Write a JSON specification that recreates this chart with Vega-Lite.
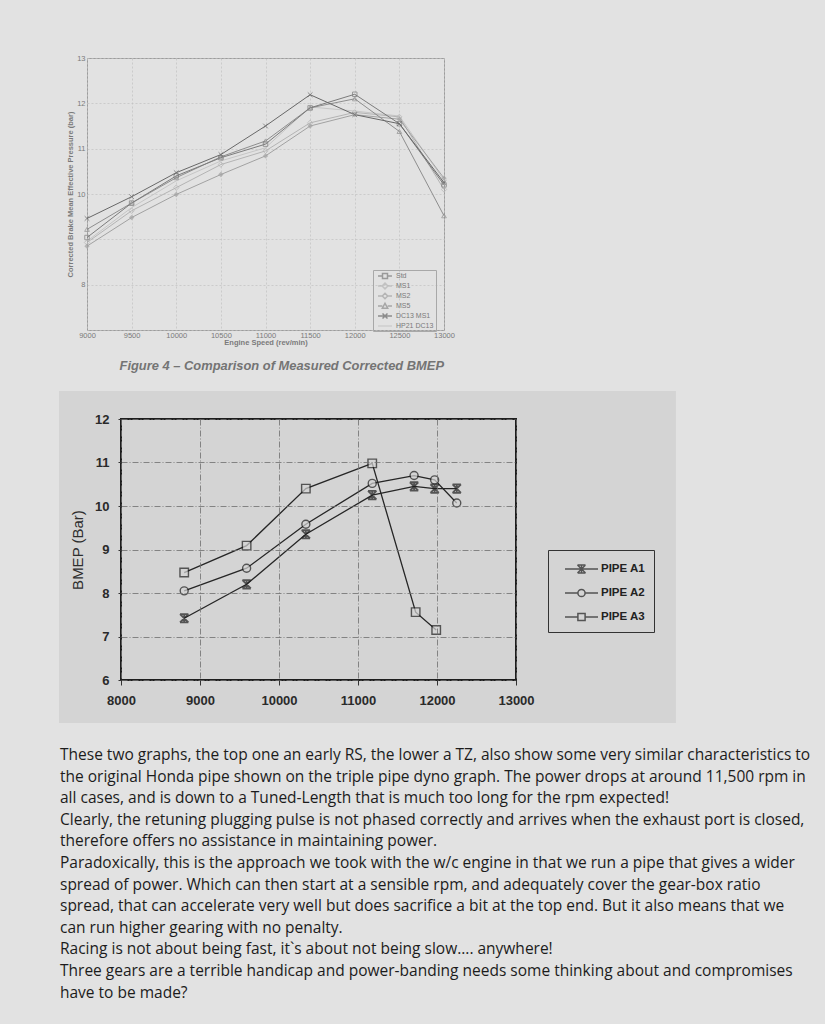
{
  "$schema": "https://vega.github.io/schema/vega-lite/v6.json",
  "padding": {"left": 58, "top": 53, "right": 0, "bottom": 26},
  "spacing": 16,
  "resolve": {"scale": {"color": "independent", "shape": "independent", "stroke": "independent"}},
  "config": {
    "background": "#e2e2e2",
    "view": {"stroke": null},
    "font": "Liberation Sans"
  },
  "vconcat": [
    {
      "spacing": 0,
      "resolve": {"scale": {"color": "independent", "shape": "independent", "stroke": "independent"}},
      "hconcat": [
        {"width": 8, "height": 10, "data": {"values": []}, "mark": "point"},
        {
          "width": 357,
          "height": 272,
          "view": {"stroke": "#9c9c9c", "strokeWidth": 1},
          "title": {"text": "Figure 4 – Comparison of Measured Corrected BMEP", "orient": "bottom", "anchor": "end", "frame": "group", "font": "Liberation Sans", "fontSize": 12.9, "fontStyle": "italic", "fontWeight": "bold", "color": "#747474", "offset": 14},
          "data": {"values": [
            {"series": "Std", "rpm": 9000, "bmep": 9.04}, {"series": "Std", "rpm": 9500, "bmep": 9.8}, {"series": "Std", "rpm": 10000, "bmep": 10.4}, {"series": "Std", "rpm": 10500, "bmep": 10.8}, {"series": "Std", "rpm": 11000, "bmep": 11.1}, {"series": "Std", "rpm": 11500, "bmep": 11.9}, {"series": "Std", "rpm": 12000, "bmep": 12.2}, {"series": "Std", "rpm": 12500, "bmep": 11.55}, {"series": "Std", "rpm": 13000, "bmep": 10.2},
            {"series": "MS1", "rpm": 9000, "bmep": 8.93}, {"series": "MS1", "rpm": 9500, "bmep": 9.63}, {"series": "MS1", "rpm": 10000, "bmep": 10.14}, {"series": "MS1", "rpm": 10500, "bmep": 10.65}, {"series": "MS1", "rpm": 11000, "bmep": 10.95}, {"series": "MS1", "rpm": 11500, "bmep": 11.57}, {"series": "MS1", "rpm": 12000, "bmep": 11.8}, {"series": "MS1", "rpm": 12500, "bmep": 11.7}, {"series": "MS1", "rpm": 13000, "bmep": 10.1},
            {"series": "MS2", "rpm": 9000, "bmep": 8.85}, {"series": "MS2", "rpm": 9500, "bmep": 9.48}, {"series": "MS2", "rpm": 10000, "bmep": 9.99}, {"series": "MS2", "rpm": 10500, "bmep": 10.43}, {"series": "MS2", "rpm": 11000, "bmep": 10.84}, {"series": "MS2", "rpm": 11500, "bmep": 11.5}, {"series": "MS2", "rpm": 12000, "bmep": 11.75}, {"series": "MS2", "rpm": 12500, "bmep": 11.65}, {"series": "MS2", "rpm": 13000, "bmep": 10.35},
            {"series": "MS5", "rpm": 9000, "bmep": 9.22}, {"series": "MS5", "rpm": 9500, "bmep": 9.8}, {"series": "MS5", "rpm": 10000, "bmep": 10.36}, {"series": "MS5", "rpm": 10500, "bmep": 10.82}, {"series": "MS5", "rpm": 11000, "bmep": 11.17}, {"series": "MS5", "rpm": 11500, "bmep": 11.9}, {"series": "MS5", "rpm": 12000, "bmep": 12.1}, {"series": "MS5", "rpm": 12500, "bmep": 11.38}, {"series": "MS5", "rpm": 13000, "bmep": 9.52},
            {"series": "DC13 MS1", "rpm": 9000, "bmep": 9.46}, {"series": "DC13 MS1", "rpm": 9500, "bmep": 9.94}, {"series": "DC13 MS1", "rpm": 10000, "bmep": 10.47}, {"series": "DC13 MS1", "rpm": 10500, "bmep": 10.87}, {"series": "DC13 MS1", "rpm": 11000, "bmep": 11.5}, {"series": "DC13 MS1", "rpm": 11500, "bmep": 12.19}, {"series": "DC13 MS1", "rpm": 12000, "bmep": 11.75}, {"series": "DC13 MS1", "rpm": 12500, "bmep": 11.55}, {"series": "DC13 MS1", "rpm": 13000, "bmep": 10.25},
            {"series": "HP21 DC13", "rpm": 9000, "bmep": 8.96}, {"series": "HP21 DC13", "rpm": 9500, "bmep": 9.7}, {"series": "HP21 DC13", "rpm": 10000, "bmep": 10.29}, {"series": "HP21 DC13", "rpm": 10500, "bmep": 10.73}, {"series": "HP21 DC13", "rpm": 11000, "bmep": 11.02}, {"series": "HP21 DC13", "rpm": 11500, "bmep": 11.92}, {"series": "HP21 DC13", "rpm": 12000, "bmep": 11.83}, {"series": "HP21 DC13", "rpm": 12500, "bmep": 11.72}, {"series": "HP21 DC13", "rpm": 13000, "bmep": 10.3}
          ]},
          "encoding": {
            "x": {"field": "rpm", "type": "quantitative", "scale": {"domain": [9000, 13000], "nice": false, "zero": false},
              "axis": {"title": "Engine Speed (rev/min)", "format": "d", "values": [9000, 9500, 10000, 10500, 11000, 11500, 12000, 12500, 13000], "labelFontSize": 7.5, "labelColor": "#7a7a7a", "labelFlush": false, "titleFontSize": 7.5, "titleFontWeight": "bold", "titleColor": "#7a7a7a", "tickSize": 0, "labelPadding": 1, "titlePadding": 0, "domain": false, "grid": true, "gridColor": "#c2c2c2", "gridDash": [2, 2], "gridWidth": 0.7}},
            "y": {"field": "bmep", "type": "quantitative", "scale": {"domain": [7, 13], "nice": false, "zero": false},
              "axis": {"title": "Corrected Brake Mean Effective Pressure (bar)", "values": [7, 8, 9, 10, 11, 12, 13], "labelExpr": "datum.value == 9 || datum.value == 7 ? '' : datum.label", "labelFontSize": 7.5, "labelColor": "#7a7a7a", "titleFontSize": 7.5, "titleFontWeight": "bold", "titleColor": "#7a7a7a", "tickSize": 0, "labelPadding": 2, "titlePadding": 2, "domain": false, "grid": true, "gridColor": "#c2c2c2", "gridDash": [2, 2], "gridWidth": 0.7}}
          },
          "layer": [
            {"transform": [{"filter": "datum.series == 'HP21 DC13'"}], "mark": {"type": "line", "strokeWidth": 1, "color": "#c6c6c6"}},
            {"transform": [{"filter": "datum.series == 'MS1'"}], "mark": {"type": "line", "strokeWidth": 1, "color": "#b4b4b4"}},
            {"transform": [{"filter": "datum.series == 'MS2'"}], "mark": {"type": "line", "strokeWidth": 1, "color": "#a2a2a2"}},
            {"transform": [{"filter": "datum.series == 'MS5'"}], "mark": {"type": "line", "strokeWidth": 1, "color": "#8e8e8e"}},
            {"transform": [{"filter": "datum.series == 'Std'"}], "mark": {"type": "line", "strokeWidth": 1, "color": "#7c7c7c"}},
            {"transform": [{"filter": "datum.series == 'DC13 MS1'"}], "mark": {"type": "line", "strokeWidth": 1, "color": "#686868"}},
            {"transform": [{"filter": "datum.series == 'Std'"}], "mark": {"type": "point", "shape": "M-1,-1H1V1H-1Z", "size": 20, "filled": false, "color": "#7c7c7c", "strokeWidth": 1}},
            {"transform": [{"filter": "datum.series == 'MS1'"}], "mark": {"type": "point", "shape": "M0,-1.2L1.2,0L0,1.2L-1.2,0Z", "size": 20, "filled": false, "color": "#b4b4b4", "strokeWidth": 1}},
            {"transform": [{"filter": "datum.series == 'MS2'"}], "mark": {"type": "point", "shape": "M0,-1.2L1.2,0L0,1.2L-1.2,0Z", "size": 20, "filled": true, "color": "#a2a2a2"}},
            {"transform": [{"filter": "datum.series == 'MS5'"}], "mark": {"type": "point", "shape": "triangle-up", "size": 22, "filled": false, "color": "#8e8e8e", "strokeWidth": 1}},
            {"transform": [{"filter": "datum.series == 'DC13 MS1'"}], "mark": {"type": "point", "shape": "M-1,-1L1,1M-1,1L1,-1", "size": 22, "filled": false, "color": "#686868", "strokeWidth": 1}},
            {"mark": {"type": "point", "size": 0, "filled": false, "strokeWidth": 1},
             "encoding": {
               "shape": {"field": "series", "type": "nominal", "scale": {"domain": ["Std", "MS1", "MS2", "MS5", "DC13 MS1", "HP21 DC13"], "range": ["M-0.33,0H1.17M2.83,0H4.33M1.17,-0.83H2.83V0.83H1.17Z", "M-0.33,0H1.05M2.95,0H4.33M2,-0.95L2.95,0L2,0.95L1.05,0Z", "M-0.33,0H1.1M2.9,0H4.33M2,-0.9L2.9,0L2,0.9L1.1,0Z", "M-0.33,0H1.1M2.9,0H4.33M2,-0.9L2.9,0.75H1.1Z", "M-0.33,0H4.33M1.17,-0.83L2.83,0.83M1.17,0.83L2.83,-0.83", "M-0.33,0H4.33"]},
                 "legend": {"orient": "none", "legendX": 286, "legendY": 212, "title": null, "labelFontSize": 7, "labelColor": "#7a7a7a", "symbolSize": 36, "labelOffset": 13, "rowPadding": -3.5, "padding": 2, "strokeColor": "#a8a8a8"}},
               "stroke": {"field": "series", "type": "nominal", "scale": {"domain": ["Std", "MS1", "MS2", "MS5", "DC13 MS1", "HP21 DC13"], "range": ["#7c7c7c", "#b4b4b4", "#a2a2a2", "#8e8e8e", "#686868", "#c6c6c6"]},
                 "legend": {"orient": "none", "legendX": 286, "legendY": 212, "title": null, "labelFontSize": 7, "labelColor": "#7a7a7a", "symbolSize": 36, "labelOffset": 13, "rowPadding": -3.5, "padding": 2, "strokeColor": "#a8a8a8"}}
             }}
          ]
        }
      ]
    },
    {
      "spacing": 0,
      "resolve": {"scale": {"color": "independent", "shape": "independent", "stroke": "independent"}},
      "hconcat": [
        {"width": 1, "height": 10, "data": {"values": []}, "mark": "point"},
        {
          "width": 395,
          "height": 261,
          "data": {"values": [
            {"series": "PIPE A1", "rpm": 8800, "bmep": 7.42}, {"series": "PIPE A1", "rpm": 9590, "bmep": 8.2}, {"series": "PIPE A1", "rpm": 10340, "bmep": 9.35}, {"series": "PIPE A1", "rpm": 11180, "bmep": 10.25}, {"series": "PIPE A1", "rpm": 11710, "bmep": 10.45}, {"series": "PIPE A1", "rpm": 11970, "bmep": 10.4}, {"series": "PIPE A1", "rpm": 12250, "bmep": 10.4},
            {"series": "PIPE A2", "rpm": 8800, "bmep": 8.05}, {"series": "PIPE A2", "rpm": 9590, "bmep": 8.57}, {"series": "PIPE A2", "rpm": 10340, "bmep": 9.58}, {"series": "PIPE A2", "rpm": 11180, "bmep": 10.52}, {"series": "PIPE A2", "rpm": 11710, "bmep": 10.7}, {"series": "PIPE A2", "rpm": 11970, "bmep": 10.6}, {"series": "PIPE A2", "rpm": 12250, "bmep": 10.07},
            {"series": "PIPE A3", "rpm": 8800, "bmep": 8.47}, {"series": "PIPE A3", "rpm": 9590, "bmep": 9.09}, {"series": "PIPE A3", "rpm": 10340, "bmep": 10.4}, {"series": "PIPE A3", "rpm": 11180, "bmep": 10.98}, {"series": "PIPE A3", "rpm": 11730, "bmep": 7.56}, {"series": "PIPE A3", "rpm": 11990, "bmep": 7.15}
          ]},
          "encoding": {
            "x": {"field": "rpm", "type": "quantitative", "scale": {"domain": [8000, 13000], "nice": false, "zero": false},
              "axis": {"title": null, "format": "d", "values": [8000, 9000, 10000, 11000, 12000, 13000], "labelFontSize": 13, "labelFontWeight": "bold", "labelColor": "#2a2a2a", "labelFlush": false, "tickSize": 5, "tickColor": "#333333", "labelPadding": 9, "domain": false, "grid": true, "gridColor": "#6e6e6e", "gridDash": [6, 2, 1, 2], "gridWidth": 0.8, "zindex": 1}},
            "y": {"field": "bmep", "type": "quantitative", "scale": {"domain": [6, 12], "nice": false, "zero": false},
              "axis": {"title": "BMEP (Bar)", "values": [6, 7, 8, 9, 10, 11, 12], "titleFontSize": 15, "titleFontWeight": "normal", "titleColor": "#2e2e2e", "titlePadding": 9, "labelFontSize": 13, "labelFontWeight": "bold", "labelColor": "#2a2a2a", "tickSize": 3, "tickColor": "#333333", "labelPadding": 9, "domain": false, "grid": true, "gridColor": "#6e6e6e", "gridDash": [6, 2, 1, 2], "gridWidth": 0.8, "zindex": 1}}
          },
          "layer": [
            {"mark": {"type": "rect", "color": "#d4d4d4", "clip": false},
             "encoding": {"x": {"datum": 7216, "type": "quantitative"}, "x2": {"datum": 15013}, "y": {"datum": 12.644, "type": "quantitative"}, "y2": {"datum": 5.011}}},
            {"mark": {"type": "rect", "fillOpacity": 0, "stroke": "#1e1e1e", "strokeWidth": 2},
             "encoding": {"x": {"datum": 8000, "type": "quantitative"}, "x2": {"datum": 13000}, "y": {"datum": 12, "type": "quantitative"}, "y2": {"datum": 6}}},
            {"mark": {"type": "line", "color": "#262626", "strokeWidth": 1.3}, "encoding": {"detail": {"field": "series"}}},
            {"transform": [{"filter": "datum.series == 'PIPE A1'"}], "mark": {"type": "point", "shape": "M-1,-1L1,1M-1,1L1,-1M0,-1V1M-1,-1H1M-1,1H1", "size": 70, "filled": false, "color": "#1e1e1e", "strokeWidth": 1.8}},
            {"transform": [{"filter": "datum.series == 'PIPE A2'"}], "mark": {"type": "point", "shape": "M-1,0A1,1 0 1,1 1,0A1,1 0 1,1 -1,0Z", "size": 64, "filled": true, "fill": "#d4d4d4", "stroke": "#1e1e1e", "strokeWidth": 1.4}},
            {"transform": [{"filter": "datum.series == 'PIPE A3'"}], "mark": {"type": "point", "shape": "M-1,-1H1V1H-1Z", "size": 72, "filled": true, "fill": "#d4d4d4", "stroke": "#1e1e1e", "strokeWidth": 1.4}},
            {"mark": {"type": "point", "size": 0, "filled": false, "strokeWidth": 1.4},
             "encoding": {
               "shape": {"field": "series", "type": "nominal", "scale": {"domain": ["PIPE A1", "PIPE A2", "PIPE A3"], "range": ["M-0.2,0H3.1M1.05,-0.4L1.85,0.4M1.05,0.4L1.85,-0.4M1.45,-0.4V0.4M1.05,-0.4H1.85M1.05,0.4H1.85", "M-0.2,0H1.09M1.81,0H3.1M1.09,0A0.36,0.36 0 1,1 1.81,0A0.36,0.36 0 1,1 1.09,0", "M-0.2,0H1.09M1.81,0H3.1M1.09,-0.36H1.81V0.36H1.09Z"]},
                 "legend": {"orient": "none", "legendX": 427, "legendY": 131, "title": null, "labelFontSize": 11.5, "labelFontWeight": "bold", "labelColor": "#222222", "symbolSize": 400, "labelOffset": 23, "rowPadding": 6, "padding": 8, "strokeColor": "#333333"}},
               "stroke": {"field": "series", "type": "nominal", "scale": {"domain": ["PIPE A1", "PIPE A2", "PIPE A3"], "range": ["#1e1e1e", "#1e1e1e", "#1e1e1e"]},
                 "legend": {"orient": "none", "legendX": 427, "legendY": 131, "title": null, "labelFontSize": 11.5, "labelFontWeight": "bold", "labelColor": "#222222", "symbolSize": 400, "labelOffset": 23, "rowPadding": 6, "padding": 8, "strokeColor": "#333333"}}
             }}
          ]
        }
      ]
    },
    {
      "width": 767,
      "height": 252.6,
      "data": {"values": [
        {"line": 1, "text": "These two graphs, the top one an early RS, the lower a TZ, also show some very similar characteristics to"},
        {"line": 2, "text": "the original Honda pipe shown on the triple pipe dyno graph. The power drops at around 11,500 rpm in"},
        {"line": 3, "text": "all cases, and is down to a Tuned-Length that is much too long for the rpm expected!"},
        {"line": 4, "text": "Clearly, the retuning plugging pulse is not phased correctly and arrives when the exhaust port is closed,"},
        {"line": 5, "text": "therefore offers no assistance in maintaining power."},
        {"line": 6, "text": "Paradoxically, this is the approach we took with the w/c engine in that we run a pipe that gives a wider"},
        {"line": 7, "text": "spread of power. Which can then start at a sensible rpm, and adequately cover the gear-box ratio"},
        {"line": 8, "text": "spread, that can accelerate very well but does sacrifice a bit at the top end. But it also means that we"},
        {"line": 9, "text": "can run higher gearing with no penalty."},
        {"line": 10, "text": " Racing is not about being fast, it`s about not being slow.... anywhere!"},
        {"line": 11, "text": " Three gears are a terrible handicap and power-banding needs some thinking about and compromises"},
        {"line": 12, "text": "have to be made?"}
      ]},
      "mark": {"type": "text", "align": "left", "baseline": "middle", "font": "Open Sans", "fontSize": 15.5, "color": "#1c1c1c", "dx": 2},
      "encoding": {
        "x": {"datum": 0, "type": "quantitative", "scale": {"domain": [0, 1]}, "axis": null},
        "y": {"field": "line", "type": "quantitative", "scale": {"domain": [0.3055, 12], "reverse": true, "nice": false, "zero": false}, "axis": null},
        "text": {"field": "text"}
      }
    }
  ]
}
